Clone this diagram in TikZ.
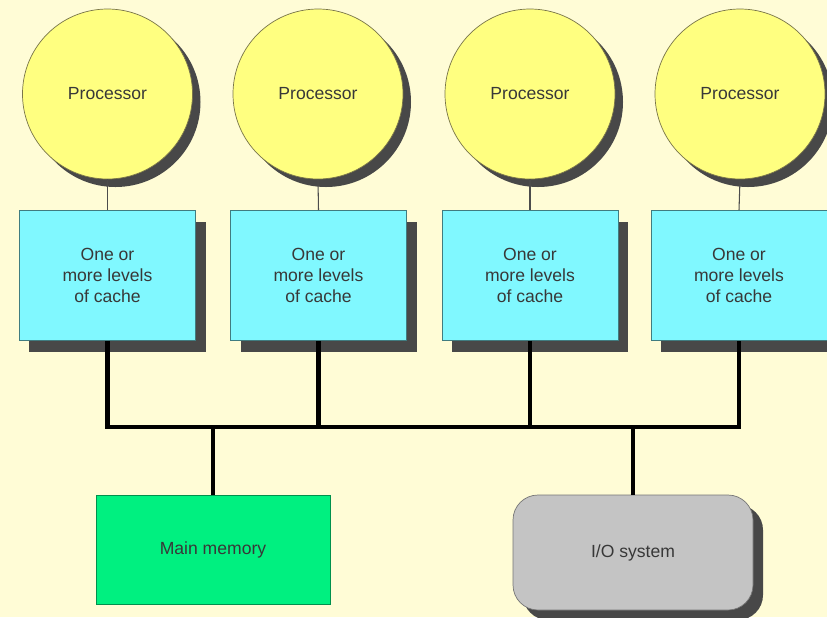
\documentclass[tikz,border=0pt]{standalone}
\usepackage{fontspec}
\setmainfont{Liberation Sans}
\usepackage{tikz}
\usetikzlibrary{shadows}

\definecolor{fond}{HTML}{FFFCD6}
\definecolor{jaune}{HTML}{FFFF80}
\definecolor{cyan}{HTML}{80F8FF}
\definecolor{vert}{HTML}{00F080}
\definecolor{gris}{HTML}{C4C4C4}
\definecolor{ombre}{HTML}{484848}
\definecolor{texte}{HTML}{383838}

\begin{document}
\begin{tikzpicture}
	\tikzstyle{proc}=[circle,draw=black!60!yellow,fill=jaune,minimum size=3.4cm,text=texte,
		drop shadow={shadow xshift=0.16cm,shadow yshift=-0.16cm,fill=ombre,opacity=1}]
	\tikzstyle{cache}=[rectangle,draw=black!50!cyan,fill=cyan,minimum width=3.52cm,minimum height=2.6cm,
		align=center,text=texte,drop shadow={shadow xshift=0.2cm,shadow yshift=-0.22cm,fill=ombre,opacity=1}]
	\tikzstyle{mem}=[rectangle,draw=black!40!vert,fill=vert,minimum width=4.68cm,minimum height=2.18cm,text=texte]
	\tikzstyle{io}=[rectangle,rounded corners=0.5cm,draw=black!40!gris,fill=gris,minimum width=4.8cm,minimum height=2.3cm,
		text=texte,drop shadow={shadow xshift=0.2cm,shadow yshift=-0.2cm,fill=ombre,opacity=1}]
	\tikzstyle{fil}=[draw=black!70,line width=0.6pt]
	\tikzstyle{bus}=[draw=black,line width=2.4pt]
	\fill[fond] (0,0) rectangle (16.54,-12.34);
	\useasboundingbox (0,0) rectangle (16.54,-12.34);
	\node[proc] (P1) at (2.15,-1.88){Processor};
	\node[proc] (P2) at (6.36,-1.88){Processor};
	\node[proc] (P3) at (10.6,-1.88){Processor};
	\node[proc] (P4) at (14.8,-1.88){Processor};
	\node[cache] (C1) at (2.15,-5.51){One or\\more levels\\of cache};
	\node[cache] (C2) at (6.37,-5.51){One or\\more levels\\of cache};
	\node[cache] (C3) at (10.6,-5.51){One or\\more levels\\of cache};
	\node[cache] (C4) at (14.78,-5.51){One or\\more levels\\of cache};
	\node[mem] (M) at (4.26,-10.99){Main memory};
	\node[io] (IO) at (12.66,-11.05){I/O system};
	\coordinate (B) at (8,-8.54);
	\draw[fil] (P1.south) -- (C1.north);
	\draw[fil] (P2.south) -- (C2.north);
	\draw[fil] (P3.south) -- (C3.north);
	\draw[fil] (P4.south) -- (C4.north);
	\draw[bus] (C1.south) |- (B) -| (C4.south);
	\draw[bus] (C2.south) -- (C2.south |- B);
	\draw[bus] (C3.south) -- (C3.south |- B);
	\draw[bus] (M.north) -- (M.north |- B);
	\draw[bus] (IO.north) -- (IO.north |- B);
\end{tikzpicture}
\end{document}
